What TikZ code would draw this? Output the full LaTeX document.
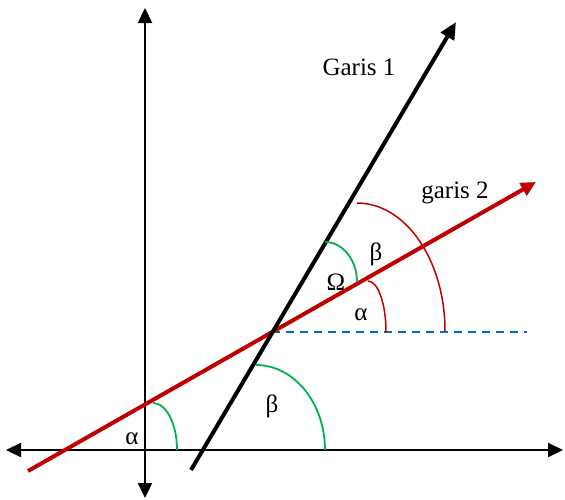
\documentclass[tikz,border=0pt]{standalone}
\usepackage{fontspec}
\setmainfont{Liberation Serif}
\usetikzlibrary{arrows.meta}
\definecolor{dred}{HTML}{C00000}
\definecolor{dgreen}{HTML}{00B050}
\definecolor{dblue}{HTML}{0070C0}
\begin{document}
\begin{tikzpicture}[x=1pt,y=-1pt,
  axis/.style={line width=2.2pt,black,{Triangle[length=15pt,width=14pt]}-{Triangle[length=15pt,width=14pt]}},
  lineone/.style={line width=4pt,black,-{Triangle[length=17pt,width=15pt]}},
  linetwo/.style={line width=4pt,dred,-{Triangle[length=15pt,width=14pt]}},
  garc/.style={line width=1.8pt,dgreen},
  rarc/.style={line width=1.5pt,dred},
  dashline/.style={line width=1.6pt,dblue,dash pattern=on 8pt off 6pt},
  lbl/.style={font=\fontsize{25}{30}\selectfont,anchor=base,inner sep=0pt}]
\useasboundingbox (0,0) rectangle (565,499);
% coordinates
\coordinate (vtop) at (145,8);
\coordinate (vbot) at (145,498);
\coordinate (hleft) at (6,450);
\coordinate (hright) at (563,450);
\coordinate (g1s) at (191,470);
\coordinate (g1e) at (456,22);
\coordinate (g2s) at (28,471);
\coordinate (g2e) at (536,182);
\coordinate (X) at (272,332);
\coordinate (dashend) at (527,332);
% axes
\draw[axis] (vbot) -- (vtop);
\draw[axis] (hleft) -- (hright);
% dashed
\draw[dashline] (X) -- (dashend);
% lines
\draw[linetwo] (g2s) -- (g2e);
\draw[lineone] (g1s) -- (g1e);
% arcs
\draw[garc] (153,403) arc[start angle=90,end angle=0,x radius=24pt,y radius=47pt];
\draw[garc] (256,365) arc[start angle=90,end angle=0,x radius=69pt,y radius=85pt];
\draw[garc] (325,242) arc[start angle=90,end angle=0,x radius=32pt,y radius=40pt];
\draw[rarc] (368,281) arc[start angle=90,end angle=0,x radius=18pt,y radius=51pt];
\draw[rarc] (357,203) arc[start angle=90,end angle=0,x radius=88pt,y radius=128pt];
% labels
\node[lbl] (t1) at (359,75) {Garis 1};
\node[lbl] (t2) at (455,198) {garis 2};
\node[lbl] (a1) at (132,444) {α};
\node[lbl] (b1) at (272,412) {β};
\node[lbl] (om) at (336,290) {Ω};
\node[lbl] (b2) at (376,260) {β};
\node[lbl] (a2) at (361,320) {α};
\end{tikzpicture}
\end{document}
